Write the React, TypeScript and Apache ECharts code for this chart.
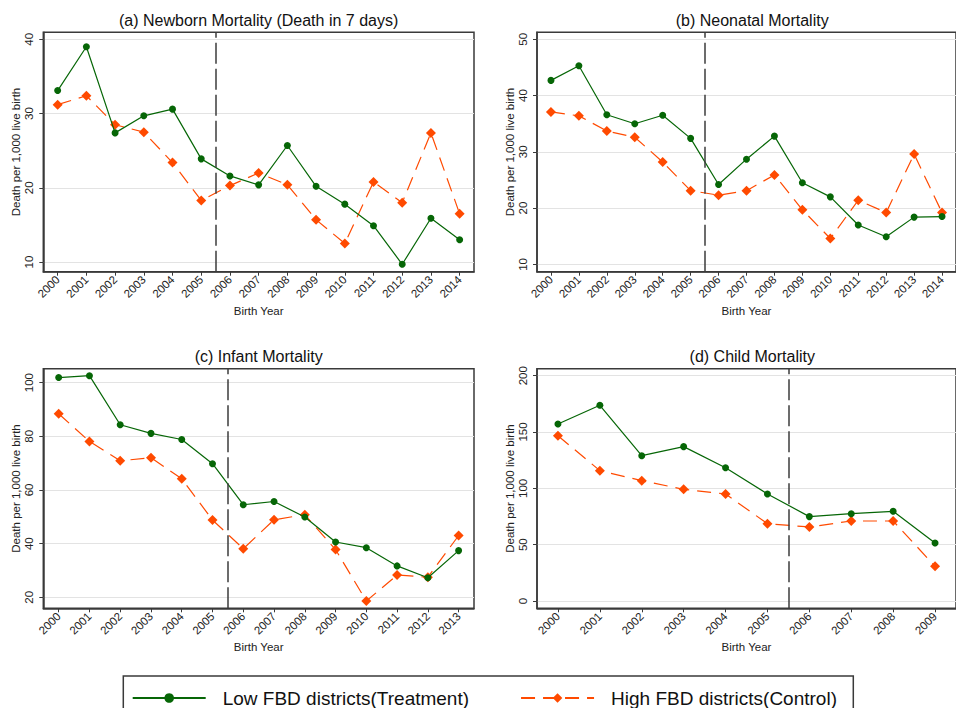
import React, { useEffect, useRef } from "react";
import * as echarts from "echarts";

const YEARS_15 = [2000, 2001, 2002, 2003, 2004, 2005, 2006, 2007, 2008, 2009, 2010, 2011, 2012, 2013, 2014];
const YEARS_14 = [2000, 2001, 2002, 2003, 2004, 2005, 2006, 2007, 2008, 2009, 2010, 2011, 2012, 2013];
const YEARS_10 = [2000, 2001, 2002, 2003, 2004, 2005, 2006, 2007, 2008, 2009];

const NEWBORN_TREAT = [33.1, 39.0, 27.4, 29.7, 30.6, 23.9, 21.6, 20.4, 25.7, 20.2, 17.8, 14.9, 9.7, 15.9, 13.0];
const NEWBORN_CTRL = [31.2, 32.4, 28.5, 27.5, 23.4, 18.3, 20.3, 22.0, 20.4, 15.7, 12.5, 20.8, 18.0, 27.4, 16.5];
const NEONATAL_TREAT = [42.7, 45.3, 36.6, 35.0, 36.5, 32.4, 24.2, 28.7, 32.8, 24.5, 22.0, 17.0, 14.9, 18.4, 18.5];
const NEONATAL_CTRL = [37.1, 36.4, 33.7, 32.6, 28.2, 23.1, 22.3, 23.1, 25.9, 19.7, 14.6, 21.4, 19.2, 29.6, 19.2];
const INFANT_TREAT = [101.9, 102.6, 84.3, 81.1, 78.8, 69.8, 54.5, 55.7, 49.9, 40.6, 38.5, 31.7, 27.3, 37.4];
const INFANT_CTRL = [88.4, 78.1, 70.9, 72.0, 64.2, 48.8, 38.1, 48.9, 50.8, 37.8, 18.6, 28.3, 27.5, 43.0];
const CHILD_TREAT = [157.1, 173.7, 129.0, 137.0, 118.3, 95.0, 74.9, 77.5, 79.6, 51.5];
const CHILD_CTRL = [146.7, 115.7, 106.8, 99.1, 95.0, 68.6, 65.7, 71.0, 71.0, 30.8];

const Y_TICKS_A = [10, 20, 30, 40];
const Y_TICKS_B = [10, 20, 30, 40, 50];
const Y_TICKS_C = [20, 40, 60, 80, 100];
const Y_TICKS_D = [0, 50, 100, 150, 200];

const TITLES = [
  "(a) Newborn Mortality (Death in 7 days)",
  "(b) Neonatal Mortality",
  "(c) Infant Mortality",
  "(d) Child Mortality",
];
const TREAT_NAME = "Low FBD districts(Treatment)";
const CTRL_NAME = "High FBD districts(Control)";
const POLICY_CUT = 2005.5;

const GREEN = "#066606";
const ORANGE = "#ff4a00";
const FONT = "Liberation Sans, Arial, sans-serif";

type Panel = {
  years: number[];
  treat: number[];
  ctrl: number[];
  yTicks: number[];
  yMin: number;
  yMax: number;
  rect: { left: number; top: number; width: number; height: number };
};

const PANELS: Panel[] = [
  { years: YEARS_15, treat: NEWBORN_TREAT, ctrl: NEWBORN_CTRL, yTicks: Y_TICKS_A, yMin: 8.7, yMax: 40.95,
    rect: { left: 43.3, top: 32.3, width: 430.7, height: 239.4 } },
  { years: YEARS_15, treat: NEONATAL_TREAT, ctrl: NEONATAL_CTRL, yTicks: Y_TICKS_B, yMin: 8.7, yMax: 51.25,
    rect: { left: 537, top: 32.3, width: 430.4, height: 239.4 } },
  { years: YEARS_14, treat: INFANT_TREAT, ctrl: INFANT_CTRL, yTicks: Y_TICKS_C, yMin: 15.9, yMax: 105.2,
    rect: { left: 43.3, top: 368.7, width: 430.7, height: 239.6 } },
  { years: YEARS_10, treat: CHILD_TREAT, ctrl: CHILD_CTRL, yTicks: Y_TICKS_D, yMin: -6.5, yMax: 206.2,
    rect: { left: 537, top: 368.7, width: 430.5, height: 239.6 } },
];

export default function App() {
  const ref = useRef<HTMLDivElement>(null);

  useEffect(() => {
    if (!ref.current) return;
    const chart = echarts.init(ref.current, null, { renderer: "svg" });

    const grids: any[] = [];
    const xAxes: any[] = [];
    const yAxes: any[] = [];
    const series: any[] = [];
    const graphics: any[] = [];

    PANELS.forEach((p, i) => {
      grids.push({
        ...p.rect,
        show: true,
        borderColor: "#3a3a3a",
        borderWidth: 1.5,
        backgroundColor: "transparent",
        containLabel: false,
      });
      xAxes.push({
        type: "value",
        gridIndex: i,
        min: p.years[0] - 0.5,
        max: p.years[p.years.length - 1] + 0.5,
        name: "Birth Year",
        nameLocation: "middle",
        nameGap: 33,
        nameTextStyle: { fontFamily: FONT, fontSize: 11.5, color: "#222" },
        axisLine: { show: true, onZero: false, lineStyle: { color: "#3a3a3a", width: 1.5 } },
        axisTick: { show: true, inside: false, length: 4, customValues: p.years, lineStyle: { color: "#3a3a3a" } },
        axisLabel: {
          customValues: p.years,
          rotate: 45,
          margin: 6,
          fontFamily: FONT,
          fontSize: 11.5,
          color: "#222",
          formatter: (v: number) => String(v),
        },
        splitLine: { show: false },
      });
      yAxes.push({
        type: "value",
        gridIndex: i,
        min: p.yMin,
        max: p.yMax,
        name: "Death per 1,000 live birth",
        nameLocation: "middle",
        nameGap: 21,
        nameTextStyle: { fontFamily: FONT, fontSize: 11.5, color: "#222" },
        axisLine: { show: true, onZero: false, lineStyle: { color: "#3a3a3a", width: 1.5 } },
        axisTick: { show: true, inside: false, length: 4, customValues: p.yTicks, lineStyle: { color: "#3a3a3a" } },
        axisLabel: {
          customValues: p.yTicks,
          rotate: 90,
          margin: 8,
          fontFamily: FONT,
          fontSize: 11.5,
          color: "#222",
        },
        splitLine: { show: true, lineStyle: { color: "#e3e3e3", width: 1.2 } },
      });
      series.push({
        name: TREAT_NAME,
        type: "line",
        xAxisIndex: i,
        yAxisIndex: i,
        data: p.years.map((y, k) => [y, p.treat[k]]),
        symbol: "circle",
        symbolSize: 7,
        clip: false,
        itemStyle: { color: GREEN },
        lineStyle: { color: GREEN, width: 1.2 },
        markLine: {
          silent: true,
          symbol: "none",
          label: { show: false },
          lineStyle: { color: "#3c3c3c", width: 1.5, type: [21, 5] },
          data: [{ xAxis: POLICY_CUT }],
        },
        z: 3,
      });
      series.push({
        name: CTRL_NAME,
        type: "line",
        xAxisIndex: i,
        yAxisIndex: i,
        data: p.years.map((y, k) => [y, p.ctrl[k]]),
        symbol: "diamond",
        symbolSize: 10,
        clip: false,
        itemStyle: { color: ORANGE },
        lineStyle: { color: ORANGE, width: 1.2, type: [14, 8] },
        z: 2,
      });
      graphics.push({
        type: "text",
        x: p.rect.left + p.rect.width / 2,
        y: p.rect.top - 12,
        style: {
          text: TITLES[i],
          fontFamily: FONT,
          fontSize: 16,
          fill: "#111",
          textAlign: "center",
          textVerticalAlign: "middle",
        },
      });
    });

    graphics.push({
      type: "rect",
      shape: { x: 123.3, y: 676, width: 730, height: 60 },
      style: { fill: "none", stroke: "#3a3a3a", lineWidth: 1.5 },
      silent: true,
    });

    chart.setOption({
      animation: false,
      backgroundColor: "#ffffff",
      grid: grids,
      xAxis: xAxes,
      yAxis: yAxes,
      series,
      legend: {
        data: [TREAT_NAME, CTRL_NAME],
        left: 131.7,
        top: 688.5,
        padding: 0,
        itemWidth: 73,
        itemHeight: 12,
        itemGap: 51,
        textStyle: { fontFamily: FONT, fontSize: 19, color: "#111", padding: [0, 0, 0, 12] },
        selectedMode: false,
      },
      graphic: graphics,
    });

    return () => chart.dispose();
  }, []);

  return (
    <div
      ref={ref}
      style={{ position: "absolute", left: 0, top: 0, width: 956, height: 708 }}
    />
  );
}
